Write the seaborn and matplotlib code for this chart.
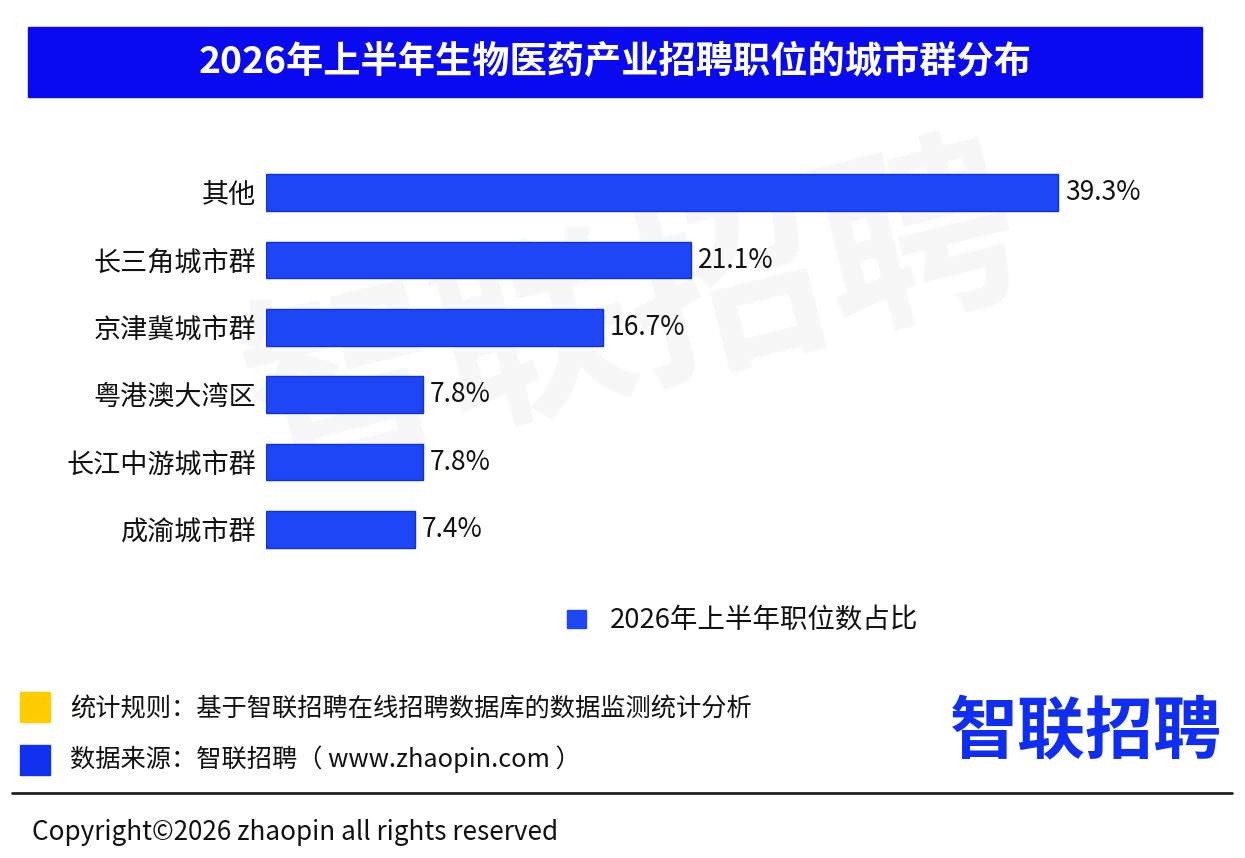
import pandas as pd
import matplotlib
matplotlib.use("Agg")
import matplotlib.pyplot as plt
import seaborn as sns
from matplotlib.patches import Rectangle
from matplotlib.lines import Line2D

# 数据
cities = ["其他", "长三角城市群", "京津冀城市群", "粤港澳大湾区", "长江中游城市群", "成渝城市群"]
shares = [39.3, 21.1, 16.7, 7.8, 7.8, 7.4]
title = "2026年上半年生物医药产业招聘职位的城市群分布"
legend_label = "2026年上半年职位数占比"
note_rule = "统计规则：基于智联招聘在线招聘数据库的数据监测统计分析"
note_source = "数据来源：智联招聘（ www.zhaopin.com ）"

sns.set_style("white")
plt.rcParams['font.family'] = ['Noto Sans CJK SC', 'DejaVu Sans']

W, H = 1245, 858
fig = plt.figure(figsize=(W / 100, H / 100), dpi=100)

def fx(px):
    return px / W

def fy(py):
    return 1 - py / H

# 标题栏
fig.patches.append(Rectangle((fx(28), fy(97)), fx(1202) - fx(28), fy(27) - fy(97),
                             transform=fig.transFigure, color="#0A0AF0", zorder=1))
fig.text(fx(615), fy(62), title, color="white", fontsize=26.8, fontweight="bold",
         ha="center", va="center", zorder=2)

# 水印（在坐标轴下面）
fig.text(fx(632), fy(318), "智联招聘", color="#f7f7f7", fontsize=142, fontweight="bold",
         ha="center", va="center", rotation=14, zorder=-1)

# 条形图
df = pd.DataFrame({"city": cities, "share": shares})
ax = fig.add_axes([fx(266), fy(563), fx(1173) - fx(266), fy(159) - fy(563)])
ax.set_zorder(3)
ax.patch.set_visible(False)
sns.barplot(data=df, x="share", y="city", orient="h", color="#1E46F5",
            saturation=1, width=0.54, edgecolor="#0A30E8", linewidth=1, ax=ax)
ax.bar_label(ax.containers[0], labels=[f"{v:.1f}%" for v in shares],
             padding=5, fontsize=19, color="#111111")
ax.set_xlim(0, 45)
ax.set_ylim(5.5, -0.5)
ax.set_xlabel("")
ax.set_ylabel("")
ax.set_xticks([])
ax.tick_params(axis="y", length=0, pad=7, labelsize=19.5, labelcolor="#111111")
sns.despine(ax=ax, left=True, bottom=True)

# 图例
fig.patches.append(Rectangle((fx(567), fy(628)), fx(586) - fx(567), fy(610) - fy(628),
                             transform=fig.transFigure, color="#1E46F5"))
fig.text(fx(610), fy(620), legend_label, fontsize=19.8, color="#111111", va="center")

# 底部说明
fig.patches.append(Rectangle((fx(20), fy(722)), fx(50) - fx(20), fy(692) - fy(722),
                             transform=fig.transFigure, color="#FFCC00"))
fig.patches.append(Rectangle((fx(20), fy(775)), fx(50) - fx(20), fy(745) - fy(775),
                             transform=fig.transFigure, color="#1030F0"))
fig.text(fx(70), fy(709), note_rule, fontsize=18.2, color="#111111", va="center")
fig.text(fx(70), fy(759), note_source, fontsize=18.2, color="#111111", va="center")

# 标志
fig.text(fx(1222), fy(734), "智联招聘", fontsize=49, fontweight="bold", color="#0F2EF2",
         ha="right", va="center")

# 分隔线与版权
fig.lines.append(Line2D([fx(12), fx(1232)], [fy(793), fy(793)], transform=fig.transFigure,
                        color="#222222", linewidth=2))
fig.text(fx(32), fy(832), "Copyright©2026 zhaopin all rights reserved", fontsize=18.8,
         color="#111111", va="center")

fig.savefig("out.png", dpi=100, facecolor="white")
